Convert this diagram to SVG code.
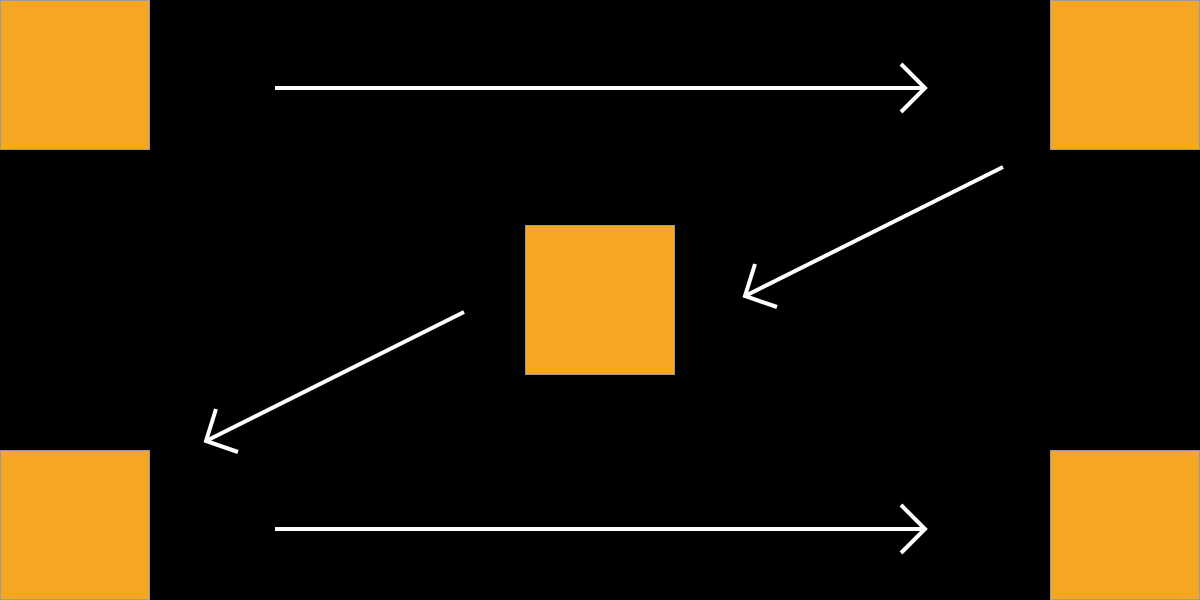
<svg xmlns="http://www.w3.org/2000/svg" width="1200" height="600" viewBox="0 0 1200 600">
<style>
.node{fill:#F5A623;stroke:#9B9B9B;stroke-width:1}
.conn{fill:none;stroke:#FFFFFF;stroke-width:4}
</style>
<rect x="0" y="0" width="1200" height="600" fill="#000000"/>
<g id="node-tl"><rect class="node" x="0.5" y="0.5" width="149" height="149"/></g>
<g id="node-tr"><rect class="node" x="1050.5" y="0.5" width="149" height="149"/></g>
<g id="node-c"><rect class="node" x="525.5" y="225.5" width="149" height="149"/></g>
<g id="node-bl"><rect class="node" x="0.5" y="450.5" width="149" height="149"/></g>
<g id="node-br"><rect class="node" x="1050.5" y="450.5" width="149" height="149"/></g>
<g id="connectors">
<path class="conn" d="M275 88 H925 M901 64 L925 88 L901 112"/>
<path class="conn" d="M1003 167 L745 296 M755 264 L745 296 L777 307"/>
<path class="conn" d="M464 312 L206 441 M216 409 L206 441 L238 452"/>
<path class="conn" d="M275 529 H925 M901 505 L925 529 L901 553"/>
</g>
</svg>
